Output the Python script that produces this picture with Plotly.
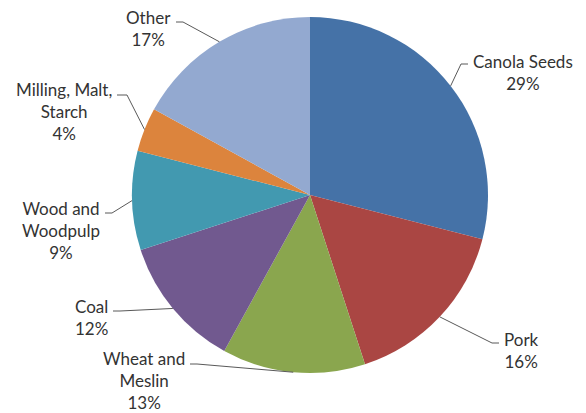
import math
import plotly.graph_objects as go

# ---- data ----
categories = ["Canola Seeds", "Pork", "Wheat and Meslin", "Coal",
              "Wood and Woodpulp", "Milling, Malt, Starch", "Other"]
shares = [29, 16, 13, 12, 9, 4, 17]
label_texts = ["Canola Seeds", "Pork", "Wheat and<br>Meslin", "Coal",
               "Wood and<br>Woodpulp", "Milling, Malt,<br>Starch", "Other"]
colors = ["#4572A7", "#AA4643", "#8AA64E", "#71598F",
          "#4299B0", "#DC843D", "#93A9D0"]

# ---- layout (pixels) ----
W, H = 586, 413
CX, CY, R = 310, 195, 178
# per-label leader layout: (elbow_x, line_y, end_x, side, text_center_y)
LEADER = {
    "Canola Seeds": (461, 64, 468, "right", 72),
    "Pork": (492, 343, 499, "right", 350),
    "Wheat and Meslin": (197, 364, 190, "left", 380),
    "Coal": (120, 311, 113, "left", 317),
    "Wood and Woodpulp": (112, 213, 105, "left", 231),
    "Milling, Malt, Starch": (127, 95, 117, "left", 112),
    "Other": (183, 22, 176, "left", 29),
}
TEXT_COLOR = "#333333"
FONT = "Lato"


def px(x):
    return x / W


def py(y):
    return 1 - y / H


fig = go.Figure(go.Pie(
    labels=categories, values=shares, sort=False, direction="clockwise",
    rotation=0, textinfo="none", hoverinfo="label+percent",
    marker=dict(colors=colors, line=dict(width=0)),
    domain=dict(x=[px(CX - R), px(CX + R)], y=[py(CY + R), py(CY - R)]),
    showlegend=False,
))

total = sum(shares)
cum = 0
shapes, annotations = [], []
for cat, val, txt in zip(categories, shares, label_texts):
    ang = 2 * math.pi * (cum + val / 2) / total
    cum += val
    ex = CX + R * math.sin(ang)
    ey = CY - R * math.cos(ang)
    elbow_x, line_y, end_x, side, tcy = LEADER[cat]
    path = f"M {px(ex)} {py(ey)} L {px(elbow_x)} {py(line_y)} L {px(end_x)} {py(line_y)}"
    shapes.append(dict(type="path", xref="paper", yref="paper", path=path,
                       line=dict(color="#595959", width=1)))
    pct = f"{round(100 * val / total)}%"
    annotations.append(dict(
        xref="paper", yref="paper",
        x=px(end_x + (3 if side == "right" else -3)), y=py(tcy),
        xanchor="left" if side == "right" else "right", yanchor="middle",
        text=f"{txt}<br>{pct}", showarrow=False, align="center",
        font=dict(family=FONT, size=17, color=TEXT_COLOR),
    ))

fig.update_layout(
    width=W, height=H, margin=dict(l=0, r=0, t=0, b=0),
    paper_bgcolor="white", plot_bgcolor="white",
    shapes=shapes, annotations=annotations,
)
fig.write_html("out.html", config={"displayModeBar": False},
               post_script="document.body.style.margin='0px';")
